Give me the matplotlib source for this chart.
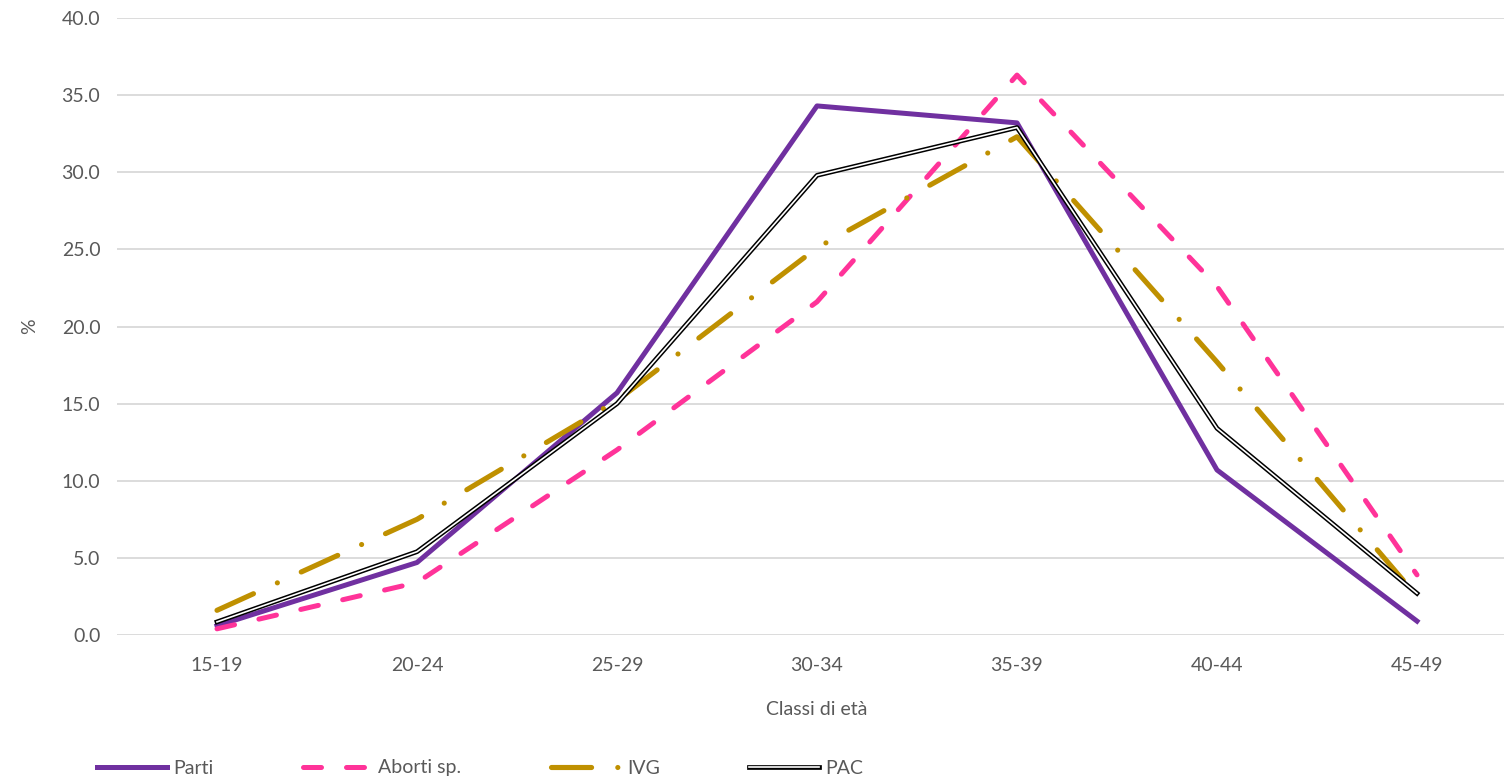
import matplotlib.pyplot as plt
from matplotlib.lines import Line2D
from matplotlib.legend_handler import HandlerTuple

plt.rcParams['font.family'] = ['Lato', 'DejaVu Sans']

classi = ['15-19', '20-24', '25-29', '30-34', '35-39', '40-44', '45-49']
parti = [0.6, 4.7, 15.7, 34.3, 33.2, 10.7, 0.9]
aborti = [0.4, 3.4, 12.0, 21.6, 36.3, 22.6, 3.9]
ivg = [1.6, 7.5, 15.2, 25.1, 32.3, 17.7, 2.5]
pac = [0.85, 5.4, 15.0, 29.8, 32.9, 13.4, 2.7]

viola = '#7030A0'
rosa = '#FF3399'
oro = '#BF9000'
grigio = '#595959'

fig = plt.figure(figsize=(15.04, 7.79), dpi=100)
# l'area del grafico esce un po' a destra, come nell'originale
ax = fig.add_axes([117 / 1504, 144 / 779, 1400 / 1504, 617 / 779])

x = range(len(classi))
ax.plot(x, parti, color=viola, lw=3.6, solid_joinstyle='round', zorder=3)
ax.plot(x, aborti, color=rosa, lw=3.6, dashes=(3.6, 5.0),
        dash_capstyle='round', zorder=4)
ax.plot(x, ivg, color=oro, lw=3.7, dashes=(7.8, 5.1, 0.01, 5.1),
        dash_capstyle='round', zorder=5)
# PAC: linea doppia (nera con interno bianco)
ax.plot(x, pac, color='black', lw=3.4, zorder=6)
ax.plot(x, pac, color='white', lw=1.2, zorder=7)

ax.set_xlim(-0.5, 6.5)
ax.set_ylim(0, 40)
ax.set_yticks([0, 5, 10, 15, 20, 25, 30, 35, 40])
ax.set_yticklabels([f'{v:.1f}' for v in ax.get_yticks()])
ax.set_xticks(list(x))
ax.set_xticklabels(classi)
ax.grid(axis='y', color='#D9D9D9', lw=1.3)
ax.set_axisbelow(True)
for s in ax.spines.values():
    s.set_visible(False)
ax.tick_params(length=0, labelsize=14, labelcolor=grigio, pad=12)
ax.tick_params(axis='x', pad=16)
ax.set_xlabel('Classi di età', fontsize=14, color=grigio, labelpad=19)
ax.set_ylabel('%', fontsize=14, color=grigio, labelpad=17)

h_parti = Line2D([], [], color=viola, lw=3.6)
h_aborti = Line2D([], [], color=rosa, lw=3.6, dashes=(3.6, 5.0), dash_capstyle='round')
h_ivg = Line2D([], [], color=oro, lw=3.7, dashes=(7.8, 5.1, 0.01, 5.1), dash_capstyle='round')
h_pac = (Line2D([], [], color='black', lw=3.4), Line2D([], [], color='white', lw=1.2))
leg = fig.legend([h_parti, h_aborti, h_ivg, h_pac], ['Parti', 'Aborti sp.', 'IVG', 'PAC'],
                 loc='center left', bbox_to_anchor=(97 / 1504, 11 / 779), ncol=4,
                 frameon=False, fontsize=14, handlelength=3.6, handletextpad=0.3,
                 columnspacing=4.6, borderpad=0, borderaxespad=0,
                 handler_map={tuple: HandlerTuple(ndivide=1, pad=0)})
for t in leg.get_texts():
    t.set_color(grigio)

fig.savefig('out.png', dpi=100)
